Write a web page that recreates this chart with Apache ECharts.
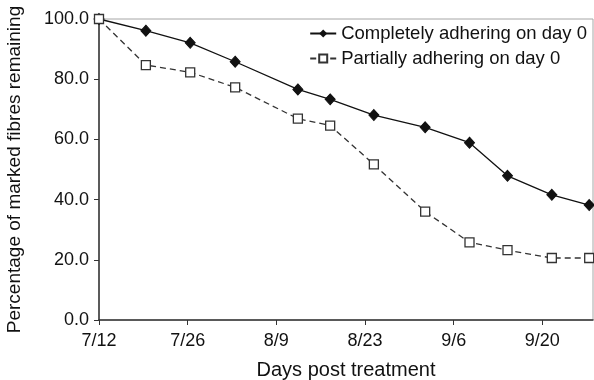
<!DOCTYPE html>
<html>
<head>
<meta charset="utf-8">
<script src="https://cdn.jsdelivr.net/npm/echarts@6/dist/echarts.min.js"></script>
<style>
  html, body { margin: 0; padding: 0; background: #fff; }
  #chart { width: 594px; height: 380px; }
</style>
</head>
<body>
<div id="chart"></div>
<script>
// days after 7/12 for each survey
var days = [0, 7.4, 14.4, 21.5, 31.4, 36.5, 43.4, 51.5, 58.5, 64.5, 71.5, 77.4];
var complete = [100, 96.1, 92.1, 85.8, 76.6, 73.3, 68.1, 64.0, 58.9, 47.9, 41.6, 38.2];
var partial = [100, 84.7, 82.3, 77.3, 66.9, 64.6, 51.7, 36.0, 25.8, 23.2, 20.6, 20.6];
var dayTicks = [0, 14, 28, 42, 56, 70];

function pairs(vals) {
  return days.map(function (d, i) { return [d, vals[i]]; });
}

// turn a day offset into m/d (start 7/12)
function dayLabel(d) {
  var dt = new Date(2001, 6, 12 + Math.round(d));
  return (dt.getMonth() + 1) + '/' + dt.getDate();
}

var font = 'Liberation Sans, Arial, sans-serif';
var chart = echarts.init(document.getElementById('chart'));

chart.setOption({
  animation: false,
  grid: {
    left: 99, right: 1, top: 19, bottom: 60,
    outerBoundsMode: 'none',
    containLabel: false,
    show: true, borderColor: '#a6a6a6', borderWidth: 1
  },
  legend: {
    top: 19, right: 2,
    orient: 'vertical',
    itemGap: 6,
    itemWidth: 26, itemHeight: 10,
    textStyle: { fontFamily: font, fontSize: 18.5, color: '#111' },
    data: ['Completely adhering on day 0', 'Partially adhering on day 0']
  },
  xAxis: {
    type: 'value',
    min: 0, max: 78,
    name: 'Days post treatment',
    nameLocation: 'middle',
    nameGap: 40,
    nameTextStyle: { fontFamily: font, fontSize: 20, color: '#111' },
    axisLine: { lineStyle: { color: '#333', width: 1.5 } },
    axisTick: { show: true, length: 5, customValues: dayTicks, lineStyle: { color: '#333' } },
    axisLabel: {
      customValues: dayTicks,
      fontFamily: font, fontSize: 18, color: '#111', margin: 12,
      formatter: dayLabel
    },
    splitLine: { show: false }
  },
  yAxis: {
    type: 'value',
    min: 0, max: 100, interval: 20,
    name: 'Percentage of marked fibres remaining',
    nameLocation: 'middle',
    nameGap: 75,
    nameTextStyle: { fontFamily: font, fontSize: 19, color: '#111' },
    axisLine: { show: true, lineStyle: { color: '#333', width: 1.5 } },
    axisTick: { show: true, length: 5, lineStyle: { color: '#333' } },
    axisLabel: {
      fontFamily: font, fontSize: 18, color: '#111', margin: 10,
      formatter: function (v) { return v.toFixed(1); }
    },
    splitLine: { show: false }
  },
  series: [
    {
      name: 'Completely adhering on day 0',
      type: 'line',
      data: pairs(complete),
      symbol: 'diamond',
      symbolSize: [10, 11],
      itemStyle: { color: '#111', borderColor: '#111' },
      lineStyle: { color: '#111', width: 1.3 }
    },
    {
      name: 'Partially adhering on day 0',
      type: 'line',
      data: pairs(partial),
      symbol: 'rect',
      symbolSize: 9,
      itemStyle: { color: '#fff', borderColor: '#333', borderWidth: 1.3 },
      lineStyle: { color: '#333', width: 1.3, type: [6, 4] }
    }
  ]
});
</script>
</body>
</html>
